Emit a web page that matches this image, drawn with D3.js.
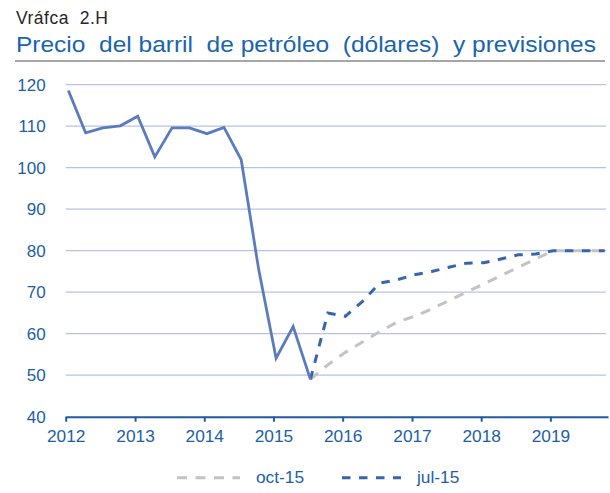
<!DOCTYPE html>
<html>
<head>
<meta charset="utf-8">
<script src="https://cdn.jsdelivr.net/npm/d3@7"></script>
<style>
  html, body { margin: 0; padding: 0; background: #fff; }
  svg { display: block; font-family: Arial, "Liberation Sans", sans-serif; }
  text { white-space: pre; }
</style>
</head>
<body>
<svg id="chart" width="610" height="493"></svg>
<script>
// ---------------- data ----------------
const supTitle = "Vráfca  2.H";
const title = "Precio  del barril  de petróleo  (dólares)  y previsiones";

// quarterly observations (first month of quarter)
const actualPeriods = ["2012-01","2012-04","2012-07","2012-10","2013-01","2013-04","2013-07","2013-10",
                       "2014-01","2014-04","2014-07","2014-10","2015-01","2015-04","2015-07"];
const actualValues  = [118.6,108.4,109.6,110.1,112.4,102.6,109.6,109.6,108.2,109.7,101.9,75.5,54.1,61.7,49.0];

const forecastPeriods = ["2015-07","2015-10","2016-01","2016-04","2016-07","2016-10","2017-01","2017-04","2017-07",
                         "2017-10","2018-01","2018-04","2018-07","2018-10","2019-01","2019-04","2019-07","2019-10"];
const oct15Values = [49.0,52.5,55.5,58.0,60.5,62.8,64.2,66.0,68.0,70.0,72.0,74.0,76.0,78.0,80.0,80.0,80.0,80.0];
const jul15Values = [49.0,65.0,64.2,67.8,72.2,73.0,74.2,75.0,76.0,77.0,77.1,78.0,79.0,79.2,80.0,80.0,80.0,80.0];

const yTicks = [40,50,60,70,80,90,100,110,120];
const xTickYears = ["2012","2013","2014","2015","2016","2017","2018","2019"];
const legendLabels = ["oct-15","jul-15"];

// ---------------- chart ----------------
const svg = d3.select("#chart");
const parseMonth = d3.timeParse("%Y-%m");
const pointDate = p => d3.timeDay.offset(parseMonth(p), 14); // plotted mid-month

const x = d3.scaleTime()
  .domain([new Date(2012,0,1), new Date(2019,10,1)])
  .range([65.7, 608]);
const y = d3.scaleLinear().domain([40,120]).range([416.7, 84.7]);

const textBlue = "#1c5ea6";

// titles
svg.append("text").attr("x", 16).attr("y", 24)
  .attr("font-size", 17.5).attr("fill", "#262626")
  .attr("textLength", 92).attr("lengthAdjust", "spacing")
  .text(supTitle);
svg.append("text").attr("x", 16).attr("y", 52.3)
  .attr("font-size", 22.3).attr("fill", "#1865ae")
  .attr("textLength", 580).attr("lengthAdjust", "spacingAndGlyphs")
  .text(title);
svg.append("line").attr("x1", 15).attr("x2", 605).attr("y1", 61).attr("y2", 61)
  .attr("stroke", "#a6a6a6").attr("stroke-width", 2);

// gridlines
svg.append("g").selectAll("line")
  .data(yTicks.filter(v => v > 40)).join("line")
  .attr("x1", 65.7).attr("x2", 606)
  .attr("y1", d => y(d)).attr("y2", d => y(d))
  .attr("stroke", "#b6c3e6").attr("stroke-width", 1.3);

// y axis labels
const yAxis = d3.axisLeft(y).tickValues(yTicks).tickSize(0).tickPadding(20);
const gy = svg.append("g").attr("transform", "translate(65.7,0)").call(yAxis);
gy.select(".domain").remove();
gy.selectAll("text").attr("font-size", 17).attr("fill", textBlue)
  .attr("font-family", "Arial, 'Liberation Sans', sans-serif");

// x axis
const xAxis = d3.axisBottom(x)
  .tickValues(xTickYears.map(s => new Date(+s,0,1)))
  .tickFormat(d3.timeFormat("%Y"))
  .tickSizeInner(5).tickSizeOuter(0).tickPadding(8);
const gx = svg.append("g").attr("transform", `translate(0,${y(40)})`).call(xAxis);
gx.select(".domain").attr("stroke", "#1f5aa2").attr("stroke-width", 2);
gx.selectAll(".tick line").attr("stroke", "#1f5aa2").attr("stroke-width", 2);
gx.selectAll("text").attr("font-size", 17.3).attr("fill", textBlue)
  .attr("font-family", "Arial, 'Liberation Sans', sans-serif");

// lines
const line = d3.line().x(d => x(pointDate(d[0]))).y(d => y(d[1]));

svg.append("path").datum(d3.zip(forecastPeriods, oct15Values))
  .attr("d", line).attr("fill", "none")
  .attr("stroke", "#c3c3c3").attr("stroke-width", 3)
  .attr("stroke-dasharray", "10,8.5");

svg.append("path").datum(d3.zip(forecastPeriods, jul15Values))
  .attr("d", line).attr("fill", "none")
  .attr("stroke", "#3566ad").attr("stroke-width", 3)
  .attr("stroke-dasharray", "8.5,8.5");

svg.append("path").datum(d3.zip(actualPeriods, actualValues))
  .attr("d", line).attr("fill", "none")
  .attr("stroke", "#5b7bbf").attr("stroke-width", 2.8)
  .attr("stroke-linejoin", "miter");

// legend
const lg = svg.append("g");
const legendItems = [
  {label: legendLabels[0], color: "#c3c3c3", dash: "10,8.5", x1: 177, x2: 240, tx: 256},
  {label: legendLabels[1], color: "#3566ad", dash: "8.5,8.5", x1: 342, x2: 401, tx: 417}
];
legendItems.forEach(it => {
  lg.append("line").attr("x1", it.x1).attr("x2", it.x2).attr("y1", 477.7).attr("y2", 477.7)
    .attr("stroke", it.color).attr("stroke-width", 3).attr("stroke-dasharray", it.dash);
  lg.append("text").attr("x", it.tx).attr("y", 482.5).attr("font-size", 17.3)
    .attr("fill", textBlue).text(it.label);
});
</script>
</body>
</html>
